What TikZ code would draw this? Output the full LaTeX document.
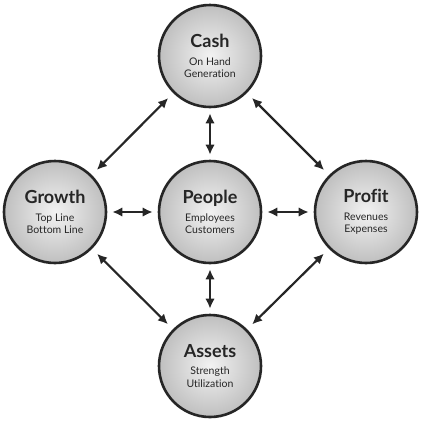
\documentclass[tikz,border=0pt]{standalone}
\usepackage{fontspec}
\setmainfont{Lato}[Ligatures=NoCommon]
\usetikzlibrary{arrows.meta}

\tikzset{
  hub/.style={circle, minimum size=102pt, inner sep=0pt, draw=black!85, line width=2.6pt,
    inner color=gray!10, outer color=gray!50, align=center, text=black!85,
    font=\fontsize{10.5}{12.5}\selectfont},
  link/.style={line width=2.2pt, draw=black!85, {Latex[length=10pt,width=9.5pt]}-{Latex[length=10pt,width=9.5pt]}},
}
\newcommand{\hubtitle}{\fontsize{18}{20}\selectfont\bfseries}

\begin{document}
\begin{tikzpicture}[x=1pt, y=-1pt]
            \useasboundingbox (0,0) rectangle (422,421);
            % Nodes
            \node[hub] (Cash) at (210,56) {\hubtitle Cash\\[5pt]On Hand\\Generation};
            \node[hub] (Growth) at (55,212) {\hubtitle Growth\\[5pt]Top Line\\Bottom Line};
            \node[hub] (People) at (210,212) {\hubtitle People\\[5pt]Employees\\Customers};
            \node[hub] (Profit) at (366,212) {\hubtitle Profit\\[5pt]Revenues\\Expenses};
            \node[hub] (Assets) at (210,366) {\hubtitle Assets\\[5pt]Strength\\Utilization};

            % Lines
            \draw[link, shorten <=7pt, shorten >=7pt] (Cash) -- (Growth);
            \draw[link, shorten <=7pt, shorten >=7pt] (Cash) -- (Profit);
            \draw[link, shorten <=7pt, shorten >=7pt] (Assets) -- (Growth);
            \draw[link, shorten <=7pt, shorten >=7pt] (Assets) -- (Profit);
            \draw[link, shorten <=5pt, shorten >=5pt] (Cash) -- (People);
            \draw[link, shorten <=5pt, shorten >=5pt] (Assets) -- (People);
            \draw[link, shorten <=5pt, shorten >=5pt] (Growth) -- (People);
            \draw[link, shorten <=5pt, shorten >=5pt] (Profit) -- (People);
        \end{tikzpicture}
\end{document}
